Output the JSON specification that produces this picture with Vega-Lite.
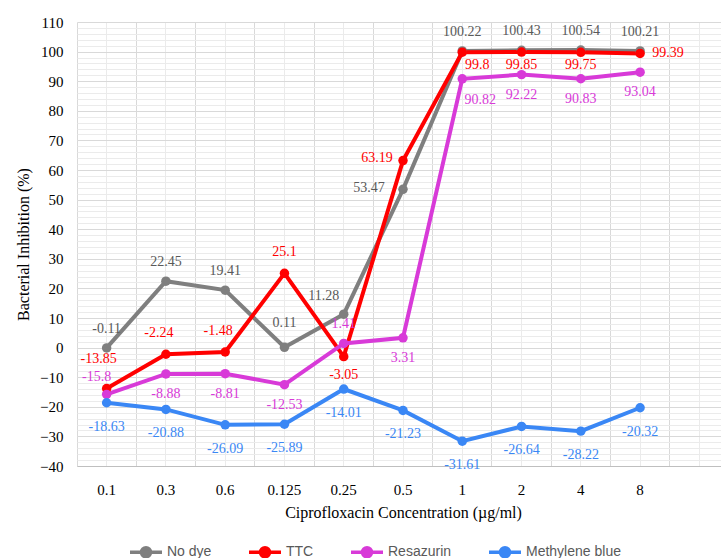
{
  "$schema": "https://vega.github.io/schema/vega-lite/v6.json",
  "width": 644,
  "height": 444,
  "autosize": {"type": "none"},
  "padding": {"left": 77, "top": 22, "right": 0, "bottom": 92},
  "background": "white",
  "config": {"view": {"stroke": null}, "font": "Liberation Serif"},
  "data": {
    "values": [
      {"conc": "0.1", "series": "No dye", "value": -0.11},
      {"conc": "0.3", "series": "No dye", "value": 22.45},
      {"conc": "0.6", "series": "No dye", "value": 19.41},
      {"conc": "0.125", "series": "No dye", "value": 0.11},
      {"conc": "0.25", "series": "No dye", "value": 11.28},
      {"conc": "0.5", "series": "No dye", "value": 53.47},
      {"conc": "1", "series": "No dye", "value": 100.22},
      {"conc": "2", "series": "No dye", "value": 100.43},
      {"conc": "4", "series": "No dye", "value": 100.54},
      {"conc": "8", "series": "No dye", "value": 100.21},
      {"conc": "0.1", "series": "TTC", "value": -13.85},
      {"conc": "0.3", "series": "TTC", "value": -2.24},
      {"conc": "0.6", "series": "TTC", "value": -1.48},
      {"conc": "0.125", "series": "TTC", "value": 25.1},
      {"conc": "0.25", "series": "TTC", "value": -3.05},
      {"conc": "0.5", "series": "TTC", "value": 63.19},
      {"conc": "1", "series": "TTC", "value": 99.8},
      {"conc": "2", "series": "TTC", "value": 99.85},
      {"conc": "4", "series": "TTC", "value": 99.75},
      {"conc": "8", "series": "TTC", "value": 99.39},
      {"conc": "0.1", "series": "Resazurin", "value": -15.8},
      {"conc": "0.3", "series": "Resazurin", "value": -8.88},
      {"conc": "0.6", "series": "Resazurin", "value": -8.81},
      {"conc": "0.125", "series": "Resazurin", "value": -12.53},
      {"conc": "0.25", "series": "Resazurin", "value": 1.41},
      {"conc": "0.5", "series": "Resazurin", "value": 3.31},
      {"conc": "1", "series": "Resazurin", "value": 90.82},
      {"conc": "2", "series": "Resazurin", "value": 92.22},
      {"conc": "4", "series": "Resazurin", "value": 90.83},
      {"conc": "8", "series": "Resazurin", "value": 93.04},
      {"conc": "0.1", "series": "Methylene blue", "value": -18.63},
      {"conc": "0.3", "series": "Methylene blue", "value": -20.88},
      {"conc": "0.6", "series": "Methylene blue", "value": -26.09},
      {"conc": "0.125", "series": "Methylene blue", "value": -25.89},
      {"conc": "0.25", "series": "Methylene blue", "value": -14.01},
      {"conc": "0.5", "series": "Methylene blue", "value": -21.23},
      {"conc": "1", "series": "Methylene blue", "value": -31.61},
      {"conc": "2", "series": "Methylene blue", "value": -26.64},
      {"conc": "4", "series": "Methylene blue", "value": -28.22},
      {"conc": "8", "series": "Methylene blue", "value": -20.32}
    ]
  },
  "layer": [
    {
      "mark": {"type": "point", "opacity": 0},
      "encoding": {
        "x": {
          "field": "conc", "type": "ordinal",
          "scale": {"type": "band", "domain": ["0.1", "0.3", "0.6", "0.125", "0.25", "0.5", "1", "2", "4", "8", "pad"], "range": [0, 652], "paddingInner": 0, "paddingOuter": 0},
          "axis": {
            "orient": "bottom", "bandPosition": 0.5, "grid": true, "gridColor": "#ebebeb",
            "ticks": false, "domain": false, "labelAngle": 0,
            "labelExpr": "datum.value == 'pad' ? '' : datum.label",
            "labelFont": "Liberation Serif", "labelFontSize": 15, "labelColor": "#000000", "labelPadding": 16,
            "title": "Ciprofloxacin Concentration (µg/ml)", "titleFont": "Liberation Serif", "titleFontSize": 16,
            "titleFontWeight": "normal", "titleColor": "#000000", "titlePadding": 7
          }
        },
        "y": {
          "field": "value", "type": "quantitative",
          "scale": {"domain": [-40, 110], "nice": false, "zero": false},
          "axis": {
            "orient": "left", "grid": true, "gridColor": "#ebebeb", "labels": false, "ticks": false, "domain": false, "title": null,
            "values": [-40,-38,-36,-34,-32,-30,-28,-26,-24,-22,-20,-18,-16,-14,-12,-10,-8,-6,-4,-2,0,2,4,6,8,10,12,14,16,18,20,22,24,26,28,30,32,34,36,38,40,42,44,46,48,50,52,54,56,58,60,62,64,66,68,70,72,74,76,78,80,82,84,86,88,90,92,94,96,98,100,102,104,106,108,110]
          }
        }
      }
    },
    {
      "encoding": {
        "x": {
          "field": "conc", "type": "ordinal",
          "scale": {"type": "band", "domain": ["0.1", "0.3", "0.6", "0.125", "0.25", "0.5", "1", "2", "4", "8", "pad"], "range": [0, 652], "paddingInner": 0, "paddingOuter": 0},
          "axis": {"orient": "bottom", "bandPosition": 0, "grid": true, "gridColor": "#d9d9d9", "ticks": false, "labels": false, "domain": true, "domainColor": "#bfbfbf", "title": null}
        },
        "y": {
          "field": "value", "type": "quantitative",
          "scale": {"domain": [-40, 110], "nice": false, "zero": false},
          "axis": {
            "orient": "left", "values": [-40,-30,-20,-10,0,10,20,30,40,50,60,70,80,90,100,110],
            "grid": true, "gridColor": "#d9d9d9", "ticks": false, "domain": false,
            "labelFont": "Liberation Serif", "labelFontSize": 15, "labelColor": "#000000", "labelPadding": 14,
            "title": "Bacterial Inhibition (%)", "titleFont": "Liberation Serif", "titleFontSize": 16,
            "titleFontWeight": "normal", "titleColor": "#000000", "titlePadding": 8
          }
        }
      },
      "layer": [
        {
          "mark": {"type": "line", "strokeWidth": 4, "point": {"size": 90, "filled": true}},
          "encoding": {
            "color": {
              "field": "series", "type": "nominal",
              "scale": {"domain": ["No dye", "TTC", "Resazurin", "Methylene blue"], "range": ["#7f7f7f", "#ff0000", "#d83ad8", "#3a87f5"]},
              "legend": {
                "orient": "none", "legendX": 51, "legendY": 512, "direction": "horizontal", "columns": 4, "title": null,
                "symbolType": "M-1,0L1,0M-0.28,0A0.28,0.28 0 1,0 0.28,0A0.28,0.28 0 1,0 -0.28,0",
                "symbolSize": 1024, "symbolStrokeWidth": 3.5, "symbolOpacity": 1,
                "labelFont": "Liberation Sans", "labelFontSize": 14, "labelColor": "#595959", "labelOffset": 3,
                "columnPadding": 30, "padding": 0,
                "encode": {"symbols": {"update": {"fill": {"scale": "color", "field": "value"}, "stroke": {"scale": "color", "field": "value"}}}}
              }
            }
          }
        },
        {"transform": [{"filter": "datum.series == 'No dye' && datum.conc != '0.25' && datum.conc != '0.5' && datum.conc != '0.125'"}],
         "mark": {"type": "text", "fontSize": 14, "font": "Liberation Serif", "color": "#595959", "dy": -19},
         "encoding": {"text": {"field": "value", "type": "nominal"}}},
        {"transform": [{"filter": "datum.series == 'No dye' && datum.conc == '0.125'"}],
         "mark": {"type": "text", "fontSize": 14, "font": "Liberation Serif", "color": "#595959", "dy": -24},
         "encoding": {"text": {"field": "value", "type": "nominal"}}},
        {"transform": [{"filter": "datum.series == 'No dye' && datum.conc == '0.25'"}],
         "mark": {"type": "text", "fontSize": 14, "font": "Liberation Serif", "color": "#595959", "dx": -20, "dy": -18},
         "encoding": {"text": {"field": "value", "type": "nominal"}}},
        {"transform": [{"filter": "datum.series == 'No dye' && datum.conc == '0.5'"}],
         "mark": {"type": "text", "fontSize": 14, "font": "Liberation Serif", "color": "#595959", "dx": -34, "dy": -1},
         "encoding": {"text": {"field": "value", "type": "nominal"}}},
        {"transform": [{"filter": "datum.series == 'TTC' && datum.conc == '0.1'"}],
         "mark": {"type": "text", "fontSize": 14, "font": "Liberation Serif", "color": "#ff0000", "dx": -8, "dy": -30},
         "encoding": {"text": {"field": "value", "type": "nominal"}}},
        {"transform": [{"filter": "datum.series == 'TTC' && (datum.conc == '0.3' || datum.conc == '0.6')"}],
         "mark": {"type": "text", "fontSize": 14, "font": "Liberation Serif", "color": "#ff0000", "dx": -7, "dy": -21},
         "encoding": {"text": {"field": "value", "type": "nominal"}}},
        {"transform": [{"filter": "datum.series == 'TTC' && datum.conc == '0.125'"}],
         "mark": {"type": "text", "fontSize": 14, "font": "Liberation Serif", "color": "#ff0000", "dy": -21},
         "encoding": {"text": {"field": "value", "type": "nominal"}}},
        {"transform": [{"filter": "datum.series == 'TTC' && datum.conc == '0.25'"}],
         "mark": {"type": "text", "fontSize": 14, "font": "Liberation Serif", "color": "#ff0000", "dy": 18},
         "encoding": {"text": {"field": "value", "type": "nominal"}}},
        {"transform": [{"filter": "datum.series == 'TTC' && datum.conc == '0.5'"}],
         "mark": {"type": "text", "fontSize": 14, "font": "Liberation Serif", "color": "#ff0000", "dx": -26, "dy": -3},
         "encoding": {"text": {"field": "value", "type": "nominal"}}},
        {"transform": [{"filter": "datum.series == 'TTC' && datum.conc == '1'"}],
         "mark": {"type": "text", "fontSize": 14, "font": "Liberation Serif", "color": "#ff0000", "dx": 15, "dy": 13},
         "encoding": {"text": {"field": "value", "type": "nominal"}}},
        {"transform": [{"filter": "datum.series == 'TTC' && (datum.conc == '2' || datum.conc == '4')"}],
         "mark": {"type": "text", "fontSize": 14, "font": "Liberation Serif", "color": "#ff0000", "dy": 13},
         "encoding": {"text": {"field": "value", "type": "nominal"}}},
        {"transform": [{"filter": "datum.series == 'TTC' && datum.conc == '8'"}],
         "mark": {"type": "text", "fontSize": 14, "font": "Liberation Serif", "color": "#ff0000", "dx": 28, "dy": 0},
         "encoding": {"text": {"field": "value", "type": "nominal"}}},
        {"transform": [{"filter": "datum.series == 'Resazurin' && datum.conc != '0.1' && datum.conc != '0.25' && datum.conc != '1'"}],
         "mark": {"type": "text", "fontSize": 14, "font": "Liberation Serif", "color": "#d83ad8", "dy": 20},
         "encoding": {"text": {"field": "value", "type": "nominal"}}},
        {"transform": [{"filter": "datum.series == 'Resazurin' && datum.conc == '1'"}],
         "mark": {"type": "text", "fontSize": 14, "font": "Liberation Serif", "color": "#d83ad8", "dx": 18, "dy": 21},
         "encoding": {"text": {"field": "value", "type": "nominal"}}},
        {"transform": [{"filter": "datum.series == 'Resazurin' && datum.conc == '0.1'"}],
         "mark": {"type": "text", "fontSize": 14, "font": "Liberation Serif", "color": "#d83ad8", "dx": -10, "dy": -17},
         "encoding": {"text": {"field": "value", "type": "nominal"}}},
        {"transform": [{"filter": "datum.series == 'Resazurin' && datum.conc == '0.25'"}],
         "mark": {"type": "text", "fontSize": 14, "font": "Liberation Serif", "color": "#d83ad8", "dy": -19},
         "encoding": {"text": {"field": "value", "type": "nominal"}}},
        {"transform": [{"filter": "datum.series == 'Methylene blue'"}],
         "mark": {"type": "text", "fontSize": 14, "font": "Liberation Serif", "color": "#3a87f5", "dy": 24},
         "encoding": {"text": {"field": "value", "type": "nominal"}}}
      ]
    }
  ],
  "resolve": {"axis": {"x": "independent", "y": "independent"}}
}
